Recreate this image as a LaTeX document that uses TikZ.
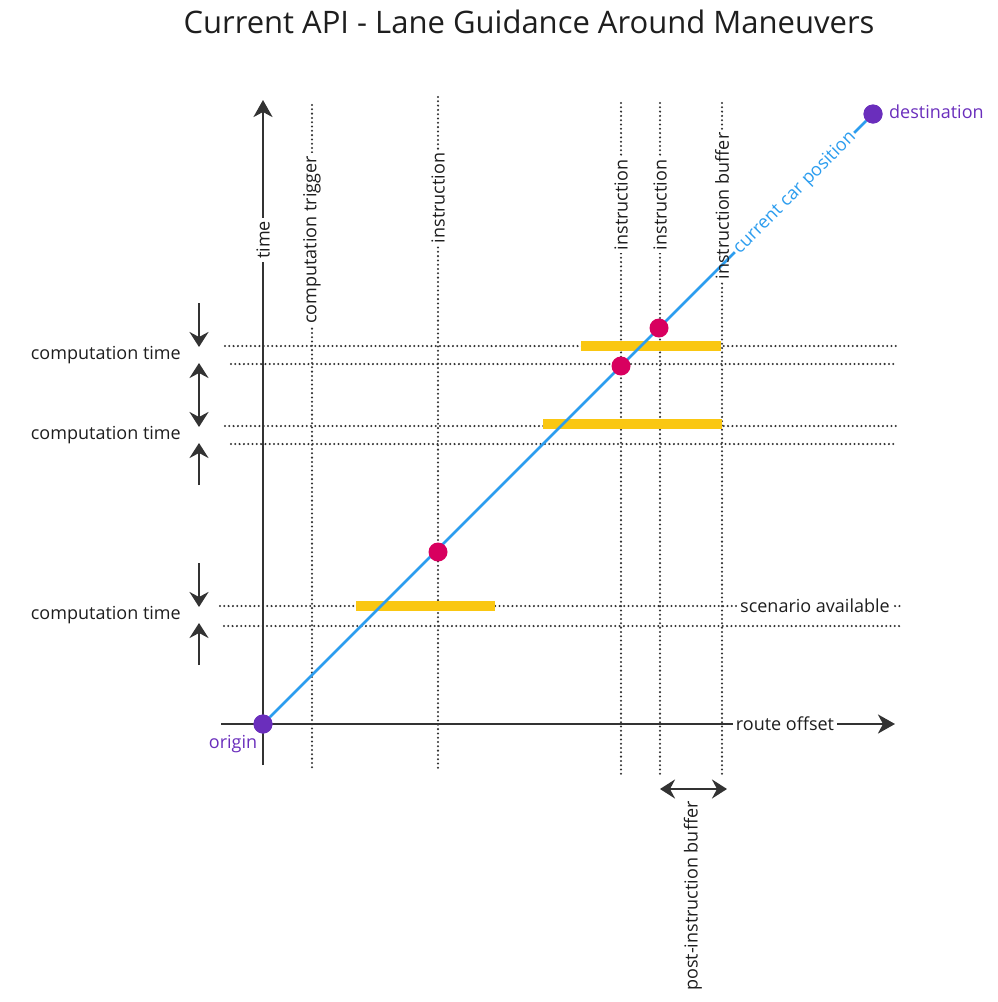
\documentclass[tikz,border=0pt]{standalone}
\usepackage{fontspec}
\setmainfont{Open Sans}
\usetikzlibrary{arrows.meta}
\definecolor{dk}{HTML}{333333}
\definecolor{txt}{HTML}{1E1E1E}
\definecolor{carblue}{HTML}{2C9DEF}
\definecolor{purp}{HTML}{6A2EBC}
\definecolor{pink}{HTML}{D8005F}
\definecolor{yel}{HTML}{FAC712}
\begin{document}
\begin{tikzpicture}[x=1pt,y=-1pt,
  lbl/.style={font=\fontsize{18}{21}\selectfont, text=txt, inner sep=3pt},
  onl/.style={lbl, fill=white},
  dotline/.style={dk, line width=2.3pt, line cap=round, dash pattern=on 0pt off 4.3pt},
  axis/.style={dk, line width=2.8pt, -{Stealth[length=17pt,width=19pt,inset=5pt]}},
  tarr/.style={dk, line width=2.8pt, -{Stealth[length=15pt,width=19pt,inset=5pt]}},
  darr/.style={dk, line width=2.8pt, {Stealth[length=15pt,width=19pt,inset=5pt]}-{Stealth[length=15pt,width=19pt,inset=5pt]}},
  bar/.style={yel, line width=10pt},
  evt/.style={circle, fill=pink, minimum size=19pt, inner sep=0pt},
  endpt/.style={circle, fill=purp, minimum size=19pt, inner sep=0pt},
]
\useasboundingbox (0,0) rectangle (997,1002);

% title
\node[font=\fontsize{31}{37}\selectfont, text=txt] (title) at (529,22) {Current API - Lane Guidance Around Maneuvers};

% vertical dotted lines
\coordinate (v1t) at (312,105); \coordinate (v1b) at (312,768);
\coordinate (v2t) at (438,97);  \coordinate (v2b) at (438,772);
\coordinate (v3t) at (621,103); \coordinate (v3b) at (621,778);
\coordinate (v4t) at (660,103); \coordinate (v4b) at (660,778);
\coordinate (v5t) at (722,103); \coordinate (v5b) at (722,778);
\foreach \i in {1,...,5} {\draw[dotline] (v\i t) -- (v\i b);}

% horizontal dotted lines
\coordinate (h1l) at (225,346); \coordinate (h1r) at (900,346);
\coordinate (h2l) at (231,364); \coordinate (h2r) at (895,364);
\coordinate (h3l) at (225,426); \coordinate (h3r) at (900,426);
\coordinate (h4l) at (231,444); \coordinate (h4r) at (895,444);
\coordinate (h5l) at (220,606); \coordinate (h5r) at (900,606);
\coordinate (h6l) at (224,626); \coordinate (h6r) at (900,626);
\foreach \i in {1,...,6} {\draw[dotline] (h\i l) -- (h\i r);}

% axes
\coordinate (yb) at (263,765); \coordinate (yt) at (263,100);
\coordinate (xl) at (221,724); \coordinate (xr) at (895,724);
\draw[axis] (yb) -- (yt);
\draw[axis] (xl) -- (xr);

% labels on lines
\node[onl, rotate=90] (ltime) at (263,240) {time};
\node[onl, rotate=90] (lct) at (312,240) {computation trigger};
\node[onl, rotate=90] (li1) at (438,198) {instruction};
\node[onl, rotate=90] (li2) at (621,205) {instruction};
\node[onl, rotate=90] (li3) at (660,205) {instruction};
\node[onl, rotate=90] (lib) at (722,206) {\phantom{instruction buffer}};
\node[onl] (lro) at (785,724) {route offset};
\node[onl] (lsa) at (815,606) {scenario available};

% yellow bars
\coordinate (b1l) at (581,346); \coordinate (b1r) at (721,346);
\coordinate (b2l) at (543,424); \coordinate (b2r) at (722,424);
\coordinate (b3l) at (356,606); \coordinate (b3r) at (495,606);
\foreach \i in {1,2,3} {\draw[bar] (b\i l) -- (b\i r);}

% car position line
\node[endpt] (origin) at (263,724) {};
\node[endpt] (dest) at (873,114) {};
\draw[carblue, line width=2.6pt] (origin) -- (dest);
\node[onl, text=carblue, rotate=45, inner sep=2pt] (lcar) at (795,193) {current car position};
\node[lbl, rotate=90] (libtxt) at (lib) {instruction buffer};
\node[endpt] at (origin) {};
\node[endpt] at (dest) {};
\node[lbl, text=purp] (lorig) at (233,744) {origin};
\node[lbl, text=purp, anchor=west] (ldest) at (886,112) {destination};

% instruction events
\node[evt] (e1) at (659,328) {};
\node[evt] (e2) at (621,366) {};
\node[evt] (e3) at (438,552) {};

% computation time arrows
\coordinate (a1s) at (199,303); \coordinate (a1e) at (199,347);
\coordinate (a2s) at (199,363); \coordinate (a2e) at (199,427);
\coordinate (a3s) at (199,485); \coordinate (a3e) at (199,443);
\coordinate (a4s) at (199,563); \coordinate (a4e) at (199,607);
\coordinate (a5s) at (199,665); \coordinate (a5e) at (199,623);
\draw[tarr] (a1s) -- (a1e);
\draw[darr] (a2s) -- (a2e);
\draw[tarr] (a3s) -- (a3e);
\draw[tarr] (a4s) -- (a4e);
\draw[tarr] (a5s) -- (a5e);
\node[lbl, anchor=east] (ct1) at (184,355) {computation time};
\node[lbl, anchor=east] (ct2) at (184,435) {computation time};
\node[lbl, anchor=east] (ct3) at (184,615) {computation time};

% post-instruction buffer
\coordinate (pbl) at (660,789); \coordinate (pbr) at (727,789);
\draw[darr] (pbl) -- (pbr);
\node[lbl, rotate=90] (lpb) at (693,896) {post-instruction buffer};
\end{tikzpicture}
\end{document}
